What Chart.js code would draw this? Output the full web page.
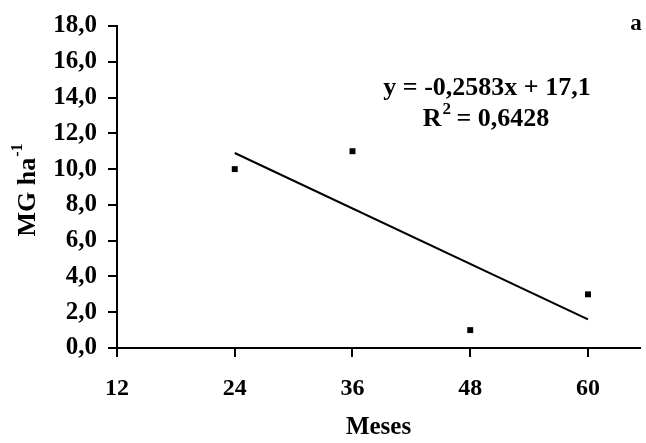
<!DOCTYPE html>
<html>
<head>
<meta charset="utf-8">
<script src="https://cdn.jsdelivr.net/npm/chart.js@4/dist/chart.umd.min.js"></script>
<style>
  html, body { margin: 0; padding: 0; background: #fff; }
  #wrap { width: 646px; height: 443px; }
</style>
</head>
<body>
<div id="wrap"><canvas id="c"></canvas></div>
<script>
const months = [24, 36, 48, 60];
const mgValues = [10.0, 11.0, 1.0, 3.0];
const trendX = [24, 60];
const trendY = [10.9, 1.6];
const xTicks = [12, 24, 36, 48, 60];
const yTicks = [0, 2, 4, 6, 8, 10, 12, 14, 16, 18];
const xTitle = 'Meses';
const yTitleMain = 'MG ha';
const yTitleSup = '-1';
const eqLine1 = 'y = -0,2583x + 17,1';
const eqLine2Main = 'R';
const eqLine2Sup = '2';
const eqLine2Rest = ' = 0,6428';
const panelLabel = 'a';

const FONT = '"Liberation Serif", "Times New Roman", serif';

const textPlugin = {
  id: 'textPlugin',
  afterDraw(chart) {
    const ctx = chart.ctx;
    const ca = chart.chartArea;
    ctx.save();
    ctx.fillStyle = '#000';
    // Y axis title with superscript
    ctx.save();
    const cy = (ca.top + ca.bottom) / 2;
    ctx.translate(28, cy + 3);
    ctx.rotate(-Math.PI / 2);
    ctx.font = 'bold 26px ' + FONT;
    const wMain = ctx.measureText(yTitleMain).width;
    ctx.font = 'bold 16px ' + FONT;
    const wSup = ctx.measureText(yTitleSup).width;
    const total = wMain + wSup + 1;
    ctx.textBaseline = 'middle';
    ctx.textAlign = 'left';
    ctx.font = 'bold 26px ' + FONT;
    ctx.fillText(yTitleMain, -total / 2, 0);
    ctx.font = 'bold 16px ' + FONT;
    ctx.fillText(yTitleSup, -total / 2 + wMain + 1, -10);
    ctx.restore();

    // Equation
    ctx.textBaseline = 'middle';
    ctx.textAlign = 'center';
    ctx.font = 'bold 26px ' + FONT;
    ctx.fillText(eqLine1, 487, 88);
    const wR = ctx.measureText(eqLine2Main).width;
    const wRest = ctx.measureText(eqLine2Rest).width;
    ctx.font = 'bold 17px ' + FONT;
    const w2 = ctx.measureText(eqLine2Sup).width;
    const tot2 = wR + w2 + wRest;
    let x0 = 486 - tot2 / 2;
    ctx.textAlign = 'left';
    ctx.font = 'bold 26px ' + FONT;
    ctx.fillText(eqLine2Main, x0, 119);
    ctx.font = 'bold 17px ' + FONT;
    ctx.fillText(eqLine2Sup, x0 + wR + 1, 110);
    ctx.font = 'bold 26px ' + FONT;
    ctx.fillText(eqLine2Rest, x0 + wR + w2, 119);

    // panel label
    ctx.textAlign = 'center';
    ctx.font = 'bold 23px ' + FONT;
    ctx.fillText(panelLabel, 636, 24);
    ctx.restore();
  }
};

new Chart(document.getElementById('c'), {
  type: 'scatter',
  data: {
    datasets: [
      {
        label: 'MG',
        data: months.map((m, i) => ({ x: m, y: mgValues[i] })),
        pointStyle: 'rect',
        pointRadius: 4.2,
        pointBackgroundColor: '#000',
        pointBorderColor: '#000',
        pointBorderWidth: 0,
        showLine: false
      },
      {
        label: 'Trend',
        type: 'line',
        data: trendX.map((m, i) => ({ x: m, y: trendY[i] })),
        borderColor: '#000',
        borderWidth: 2,
        pointRadius: 0,
        fill: false,
        tension: 0
      }
    ]
  },
  options: {
    responsive: true,
    maintainAspectRatio: false,
    animation: false,
    devicePixelRatio: 1,
    layout: { padding: { top: 21, right: 6, left: 0, bottom: 0 } },
    plugins: {
      legend: { display: false },
      tooltip: { enabled: false }
    },
    scales: {
      x: {
        type: 'linear',
        min: 12,
        max: 65.3,
        afterBuildTicks(scale) { scale.ticks = xTicks.map(v => ({ value: v })); },
        afterFit(scale) { scale.height = 95; },
        grid: { display: true, drawOnChartArea: false, drawTicks: true, tickLength: 9, color: '#000', lineWidth: 2 },
        border: { display: true, color: '#000', width: 2 },
        ticks: {
          padding: 17,
          color: '#000',
          font: { family: FONT, size: 24, weight: 'bold' },
          callback: v => String(v)
        },
        title: {
          display: true,
          text: xTitle,
          color: '#000',
          font: { family: FONT, size: 25, weight: 'bold' },
          padding: { top: 16, bottom: 0 }
        }
      },
      y: {
        type: 'linear',
        min: 0,
        max: 18,
        afterBuildTicks(scale) { scale.ticks = yTicks.map(v => ({ value: v })); },
        afterFit(scale) { scale.width = 117; },
        grid: { display: true, drawOnChartArea: false, drawTicks: true, tickLength: 9, color: '#000', lineWidth: 2 },
        border: { display: true, color: '#000', width: 2 },
        ticks: {
          padding: 11,
          color: '#000',
          font: { family: FONT, size: 25, weight: 'bold' },
          callback: v => v.toFixed(1).replace('.', ',')
        }
      }
    }
  },
  plugins: [textPlugin]
});
</script>
</body>
</html>
